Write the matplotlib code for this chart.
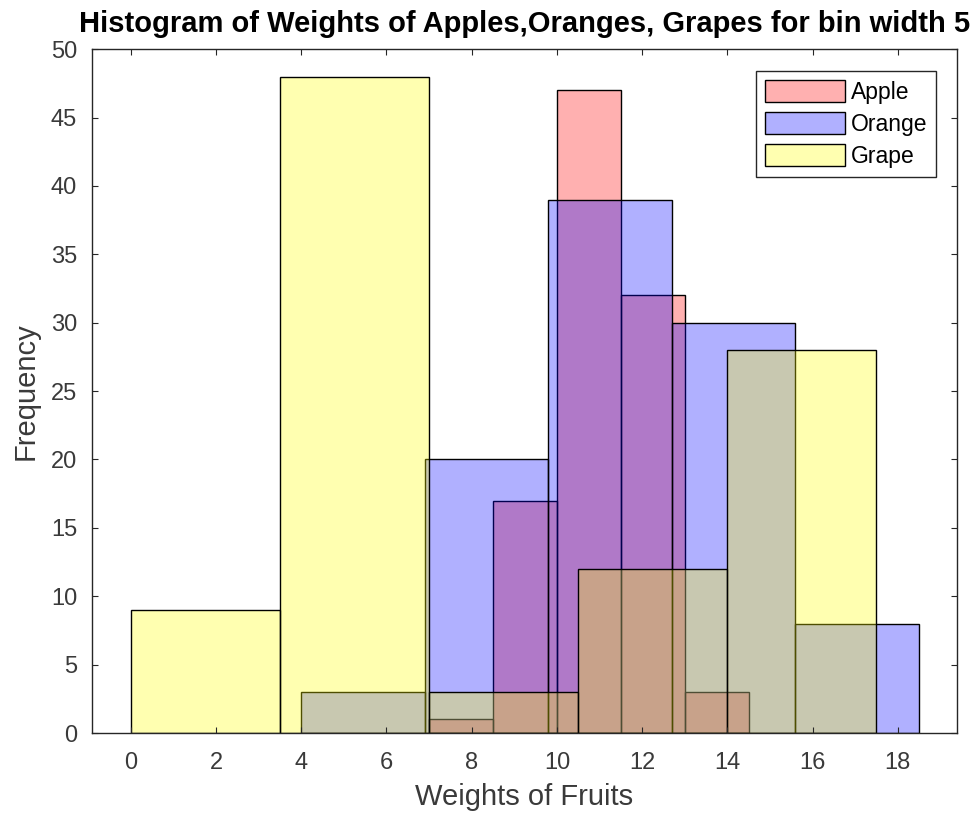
import matplotlib
matplotlib.use("Agg")
import matplotlib.pyplot as plt
import numpy as np

# ------------------------------------------------------------
# Histogram data (bin edges and counts)
# ------------------------------------------------------------
apple_edges = [7.0, 8.5, 10.0, 11.5, 13.0, 14.5]
apple_counts = [1, 17, 47, 32, 3]

orange_edges = [4.0, 6.9, 9.8, 12.7, 15.6, 18.5]
orange_counts = [3, 20, 39, 30, 8]

grape_edges = [0.0, 3.5, 7.0, 10.5, 14.0, 17.5]
grape_counts = [9, 48, 3, 12, 28]

series_names = ["Apple", "Orange", "Grape"]
x_ticks = [0, 2, 4, 6, 8, 10, 12, 14, 16, 18]
y_ticks = [0, 5, 10, 15, 20, 25, 30, 35, 40, 45, 50]

title = "Histogram of Weights of Apples,Oranges, Grapes for bin width 5"

# ------------------------------------------------------------
# Style
# ------------------------------------------------------------
plt.rcParams["font.family"] = ["Liberation Sans", "DejaVu Sans"]
face_alpha = 0.31
colours = [(1, 0, 0, face_alpha), (0, 0, 1, face_alpha), (1, 1, 0, face_alpha)]
axis_grey = "#262626"
text_grey = "#3a3a3a"

fig = plt.figure(figsize=(9.78, 8.18), dpi=100)
ax = fig.add_axes([0.0937, 0.1039, 0.8848, 0.836])

all_data = [
    (apple_edges, apple_counts),
    (orange_edges, orange_counts),
    (grape_edges, grape_counts),
]

for (edges, counts), name, colour in zip(all_data, series_names, colours):
    edges = np.asarray(edges)
    ax.bar(
        edges[:-1],
        counts,
        width=np.diff(edges),
        align="edge",
        facecolor=colour,
        edgecolor="black",
        linewidth=1.0,
        label=name,
    )

ax.set_xlim(-0.92, 19.39)
ax.set_ylim(0, 50)
ax.set_xticks(x_ticks)
ax.set_yticks(y_ticks)

ax.tick_params(axis="both", direction="in", top=True, right=True,
               length=4, width=0.8, color=axis_grey,
               labelsize=17, labelcolor=text_grey)
ax.tick_params(axis="x", pad=14)
ax.tick_params(axis="y", pad=10.5)

for spine in ax.spines.values():
    spine.set_color(axis_grey)
    spine.set_linewidth(1.0)

ax.set_xlabel("Weights of Fruits", fontsize=21, color=text_grey, labelpad=6)
ax.set_ylabel("Frequency", fontsize=21, color=text_grey, labelpad=8)
ax.set_title(title, fontsize=21, fontweight="bold", pad=12)

leg = ax.legend(
    loc="upper right",
    bbox_to_anchor=(0.976, 0.968),
    borderaxespad=0,
    fontsize=16.5,
    handlelength=3.48,
    handleheight=1.1,
    handletextpad=0.26,
    labelspacing=0.36,
    borderpad=0.4,
    fancybox=False,
    framealpha=1,
    edgecolor=axis_grey,
)
leg.get_frame().set_linewidth(1.0)

fig.savefig("out.png", dpi=100)
